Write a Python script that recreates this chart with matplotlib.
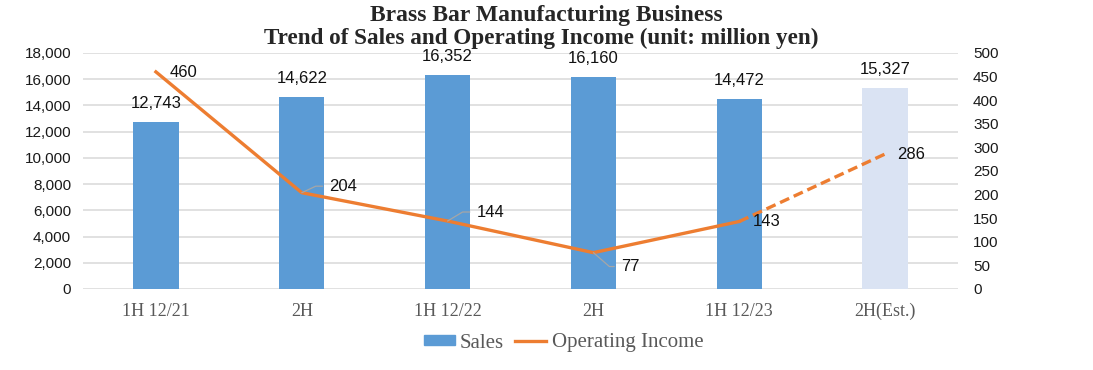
import matplotlib
matplotlib.use('Agg')
import matplotlib.pyplot as plt
from matplotlib.patches import Patch
from matplotlib.lines import Line2D
import numpy as np

categories = ['1H 12/21', '2H', '1H 12/22', '2H', '1H 12/23', '2H(Est.)']
sales = [12743, 14622, 16352, 16160, 14472, 15327]
op_income = [460, 204, 144, 77, 143, 286]
is_estimate = [False, False, False, False, False, True]
left_ticks = list(range(0, 18001, 2000))
right_ticks = list(range(0, 501, 50))

SANS = ['Liberation Sans', 'DejaVu Sans']
SERIF = ['Liberation Serif', 'DejaVu Serif']

BLUE = '#5B9BD5'
LIGHT = '#DAE3F3'
ORANGE = '#ED7D31'

W, H = 1093, 370
fig = plt.figure(figsize=(W / 100, H / 100), dpi=100)
ax = fig.add_axes([83 / W, 1 - 289 / H, (958 - 83) / W, (289 - 53) / H])

x = np.arange(len(categories))
colors = [LIGHT if e else BLUE for e in is_estimate]
ax.bar(x, sales, width=0.31, color=colors, zorder=2)
ax.set_ylim(0, 18000)
ax.set_yticks(left_ticks)
ax.set_yticklabels([f'{v:,}' for v in left_ticks], family=SANS, fontsize=11, color='#1a1a1a')
ax.set_xlim(-0.5, 5.5)
ax.set_xticks(x)
ax.set_xticklabels(categories, family=SERIF, fontsize=13, color='#595959')
ax.grid(axis='y', color='#D9D9D9', lw=1.1)
ax.set_axisbelow(True)
for s in ax.spines.values():
    s.set_visible(False)
ax.tick_params(length=0)
ax.tick_params(axis='y', pad=8.6)
ax.tick_params(axis='x', pad=10)

for xi, v in zip(x, sales):
    ax.annotate(f'{v:,}', xy=(xi, v), xytext=(0, 13.3), textcoords='offset points',
                ha='center', va='center', fontsize=12, family=SANS, color='#111111')

ax2 = ax.twinx()
ax2.set_ylim(0, 500)
ax2.set_yticks(right_ticks)
ax2.set_yticklabels([str(v) for v in right_ticks], family=SANS, fontsize=11, color='#1a1a1a')
ax2.tick_params(length=0, pad=10.8)
for s in ax2.spines.values():
    s.set_visible(False)

n_actual = sum(1 for e in is_estimate if not e)
ax2.plot(x[:n_actual], op_income[:n_actual], color=ORANGE, lw=2.4, solid_joinstyle='round', zorder=3)
ax2.plot(x[n_actual - 1:], op_income[n_actual - 1:], color=ORANGE, lw=2.4, ls=(0, (3.0, 1.5)), zorder=3)

offsets = [(10, -0.7), (20, 4.7), (21, 6.5), (20, -10), (9.4, 0), (8.6, -0.7)]
leader_angles = [None, 25, 31, -41, None, None]
for xi, v, off, ang in zip(x, op_income, offsets, leader_angles):
    kw = {}
    if ang is not None:
        kw['arrowprops'] = dict(arrowstyle='-', color='#A6A6A6', lw=0.9, shrinkA=3, shrinkB=0,
                                relpos=(0, 0.5),
                                connectionstyle=f'angle,angleA=0,angleB={ang},rad=0')
    ax2.annotate(str(v), xy=(xi, v), xytext=off, textcoords='offset points',
                 ha='left', va='center', fontsize=12, family=SANS, color='#111111', **kw)

handles = [Patch(color=BLUE), Line2D([], [], color=ORANGE, lw=2.4)]
fig.legend(handles, ['Sales', 'Operating Income'], loc='center', bbox_to_anchor=(563.5 / W, 1 - 343 / H),
           ncol=2, frameon=False, prop={'family': SERIF, 'size': 15}, labelcolor='#595959',
           handlelength=1.49, handleheight=0.3, handletextpad=0.26, columnspacing=0.53)

fig.text(546 / W, 1 - 21 / H, 'Brass Bar Manufacturing Business', ha='center', va='baseline',
         family=SERIF, fontweight='bold', fontsize=17, color='#262626')
fig.text(541 / W, 1 - 44 / H, 'Trend of Sales and Operating Income (unit: million yen)', ha='center',
         va='baseline', family=SERIF, fontweight='bold', fontsize=16.7, color='#262626')

fig.savefig('out.png', dpi=100)
